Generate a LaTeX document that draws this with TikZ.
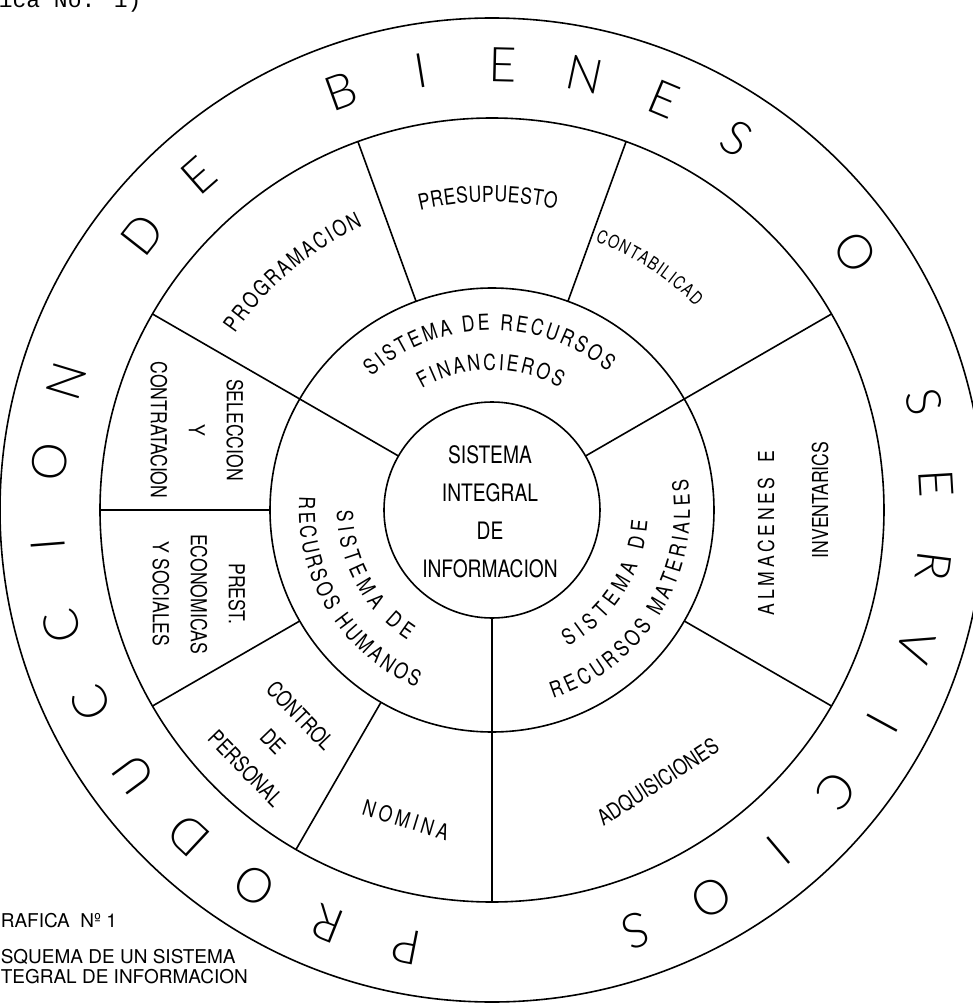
\documentclass[tikz,border=0pt]{standalone}
\usepackage{fontspec}
\usetikzlibrary{decorations.text}
\newfontfamily\labfont{TeX Gyre Heros}[FakeStretch=0.8]
\newfontfamily\capfont{TeX Gyre Heros}
\newfontfamily\ringfont{Lato Light}
\newfontfamily\typefont{Liberation Mono}
\newcommand\lbl{\labfont\fontsize{22}{38}\selectfont}
\newcommand\lbls{\labfont\fontsize{18}{38}\selectfont}

\begin{document}
\begin{tikzpicture}[x=1pt,y=1pt,line width=1.6pt,
  sect/.style={font=\lbl,align=center,inner sep=0pt},
  ring/.style={font=\ringfont\fontsize{48}{48}\selectfont,inner sep=0pt},
  capt/.style={font=\capfont\fontsize{19}{19}\selectfont,anchor=base west,inner sep=0pt},
  arctext/.style={decorate,decoration={text along path,text align={fit to path},text={|\lbl|#1}}},
  arcsmall/.style={decorate,decoration={text along path,text align={fit to path},text={|\lbls|#1}}}]
\useasboundingbox (-492,-497) rectangle (481,510);
% circles
\draw (0,0) circle (108);
\draw (0,0) circle (222);
\draw (0,0) circle (392);
\draw (0,0) circle (492);
% dividers
\foreach \a in {30,150,270} {\draw (\a:108)--(\a:392);}
\foreach \a in {70,110,180,210,240,330} {\draw (\a:222)--(\a:392);}
% outer ring letters
\foreach \ch [count=\i from 0] in {P,R,O,D,U,C,C,I,O,N,{},D,E,{},B,I,E,N,E,S,{},O,{},S,E,R,V,I,C,I,O,S} {
  \pgfmathsetmacro\a{259-10.65*\i}
  \node[ring,rotate=\a-90] (r\i) at (\a:445) {\ch};
}
% centre
\node[sect,font=\labfont\fontsize{24}{38}\selectfont] (sii) at (-2,-2) {SISTEMA\\INTEGRAL\\DE\\INFORMACION};
% middle ring
\path[arctext={SISTEMA DE RECURSOS}] (132:180) arc[start angle=132,end angle=50,radius=180];
\path[arctext={FINANCIEROS}] (120:140) arc[start angle=120,end angle=61,radius=140];
\path[arctext={SISTEMA DE}] (-61:156) arc[start angle=-61,end angle=-4,radius=156];
\path[arctext={RECURSOS MATERIALES}] (-72:198) arc[start angle=-72,end angle=9,radius=198];
\path[arctext={SISTEMA DE}] (180:155) arc[start angle=180,end angle=237,radius=155];
\path[arctext={RECURSOS HUMANOS}] (176:193) arc[start angle=176,end angle=247,radius=193];
% sectors
\path[arctext={PRESUPUESTO}] (103.5:308) arc[start angle=103.5,end angle=78,radius=308];
\path[arctext={PROGRAMACION}] (145.5:312) arc[start angle=145.5,end angle=114.5,radius=312];
\path[arcsmall={CONTABILICAD}] (69:288) arc[start angle=69,end angle=45,radius=288];
\node[sect,rotate=-90] (selec) at (-295,80) {SELECCION\\Y\\CONTRATACION};
\node[sect,rotate=-90] (prest) at (-293,-84) {PREST.\\ECONOMICAS\\Y SOCIALES};
\node[sect,rotate=-46] (contr) at (-219,-232) {CONTROL\\DE\\PERSONAL};
\node[sect,rotate=-17] (nomina) at (-86,-310) {N\,O\,M\,I\,N\,A};
\node[sect,rotate=33] (adq) at (166,-272) {ADQUISICIONES};
\node[sect,rotate=90] (alm) at (274,-23) {A\,L\,M\,A\,C\,E\,N\,E\,S\ \ \ E};
\node[sect,rotate=90] (inv) at (328,10) {INVENTARICS};
% captions
\node[anchor=base west,inner sep=0pt,font=\typefont\fontsize{23}{23}\selectfont] (hdr) at (-494,502) {ica No. 1)};
\node[capt] (g1) at (-492,-417) {RAFICA\ \ Nº 1};
\node[capt] (g2) at (-492,-453) {SQUEMA DE UN SISTEMA};
\node[capt] (g3) at (-492,-473) {TEGRAL DE INFORMACION};
\end{tikzpicture}
\end{document}
